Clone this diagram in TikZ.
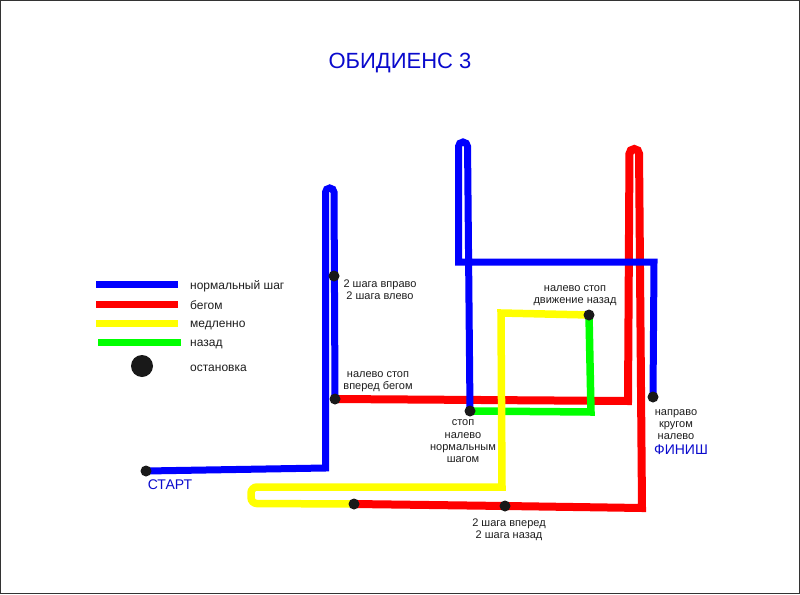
\documentclass[tikz,border=0pt]{standalone}
\usepackage{fontspec}
\setmainfont{Liberation Sans}
\definecolor{lblue}{RGB}{0,0,255}
\definecolor{lred}{RGB}{255,0,0}
\definecolor{lyellow}{RGB}{255,255,0}
\definecolor{lgreen}{RGB}{0,255,0}
\definecolor{tblue}{RGB}{10,10,205}
\definecolor{txt}{RGB}{30,30,30}
\begin{document}
\begin{tikzpicture}[x=1pt,y=-1pt,
  track/.style={line width=7pt,line join=miter},
  bluetrack/.style={track,draw=lblue},
  redtrack/.style={track,draw=lred,line width=8pt},
  yellowtrack/.style={track,draw=lyellow,line width=7.5pt},
  greentrack/.style={track,draw=lgreen,line width=7.5pt},
  legbar/.style={line width=7pt},
  stopdot/.style={circle,fill=black!90,inner sep=0pt,minimum size=11pt},
  bigdot/.style={circle,fill=black!90,inner sep=0pt,minimum size=22pt},
  lbl/.style={font=\fontsize{11}{12.3}\selectfont,text=txt,align=center,inner sep=0pt},
  leglbl/.style={font=\fontsize{12}{14}\selectfont,text=txt,anchor=west,inner sep=0pt},
  bluelbl/.style={font=\fontsize{14}{16}\selectfont,text=tblue,inner sep=0pt},
]
\useasboundingbox (0,0) rectangle (800,594);
\fill[white] (0,0) rectangle (800,594);
\draw[black!80,line width=1pt] (0.5,0.5) rectangle (799.5,593.5);

% title
\node[font=\fontsize{22}{26}\selectfont,text=tblue,inner sep=0pt] (title) at (400,63) {ОБИДИЕНС 3};

% stop points
\coordinate (pStart) at (146,471);
\coordinate (pA) at (334,276);
\coordinate (pB) at (335,399);
\coordinate (pC) at (470,411);
\coordinate (pD) at (589,315);
\coordinate (pE) at (653,397);
\coordinate (pF) at (354,504);
\coordinate (pG) at (505,506);

% red track
\draw[redtrack] (pB) -- (628,401) [rounded corners=4.75] -- (629.5,149) -- (639,149) [sharp corners] -- (642,508) -- (pG) -- (pF);
% green track
\draw[greentrack] (pD) -- (591,412) -- (pC);
% yellow track
\draw[yellowtrack] (pD) -- (501,313) -- (502,487) [rounded corners=6] -- (251,487) -- (251,503.5) [sharp corners] -- (pF);
% blue track 1
\draw[bluetrack] (pStart) -- (325.5,468) [rounded corners=4.25] -- (325.5,188) -- (334,188) [sharp corners] -- (pB);
% blue track 2
\draw[bluetrack] (pC) [rounded corners=4.5] -- (467.5,142) -- (458.5,142) [sharp corners] -- (458.5,262) -- (654,262) -- (pE);

% dots
\foreach \p in {pStart,pA,pB,pC,pD,pE,pF,pG}
  \node[stopdot] (d\p) at (\p) {};

% labels
\node[lbl] (lA) at (380,290) {2 шага вправо\\2 шага влево};
\node[lbl] (lB) at (378,382) {налево стоп\\вперед бегом};
\node[lbl] (lD) at (575,295.5) {налево стоп\\движение назад};
\node[lbl] (lC) at (463,441.5) {стоп\\налево\\нормальным\\шагом};
\node[lbl] (lE) at (676,424.5) {направо\\кругом\\налево};
\node[lbl] (lG) at (509,529.5) {2 шага вперед\\2 шага назад};
\node[bluelbl] (start) at (170,485) {СТАРТ};
\node[bluelbl] (finish) at (681,449.5) {ФИНИШ};

% legend
\coordinate (k1a) at (96,284); \coordinate (k1b) at (178,284);
\coordinate (k2a) at (96,304); \coordinate (k2b) at (178,304);
\coordinate (k3a) at (96,323); \coordinate (k3b) at (178,323);
\coordinate (k4a) at (98,342); \coordinate (k4b) at (181,342);
\draw[legbar,lblue] (k1a) -- (k1b);
\draw[legbar,lred] (k2a) -- (k2b);
\draw[legbar,lyellow] (k3a) -- (k3b);
\draw[legbar,lgreen] (k4a) -- (k4b);
\node[bigdot] (k5) at (142,366) {};
\node[leglbl] (t1) at (190,286) {нормальный шаг};
\node[leglbl] (t2) at (190,305) {бегом};
\node[leglbl] (t3) at (190,325) {медленно};
\node[leglbl] (t4) at (190,344) {назад};
\node[leglbl] (t5) at (190,368) {остановка};
\end{tikzpicture}
\end{document}
